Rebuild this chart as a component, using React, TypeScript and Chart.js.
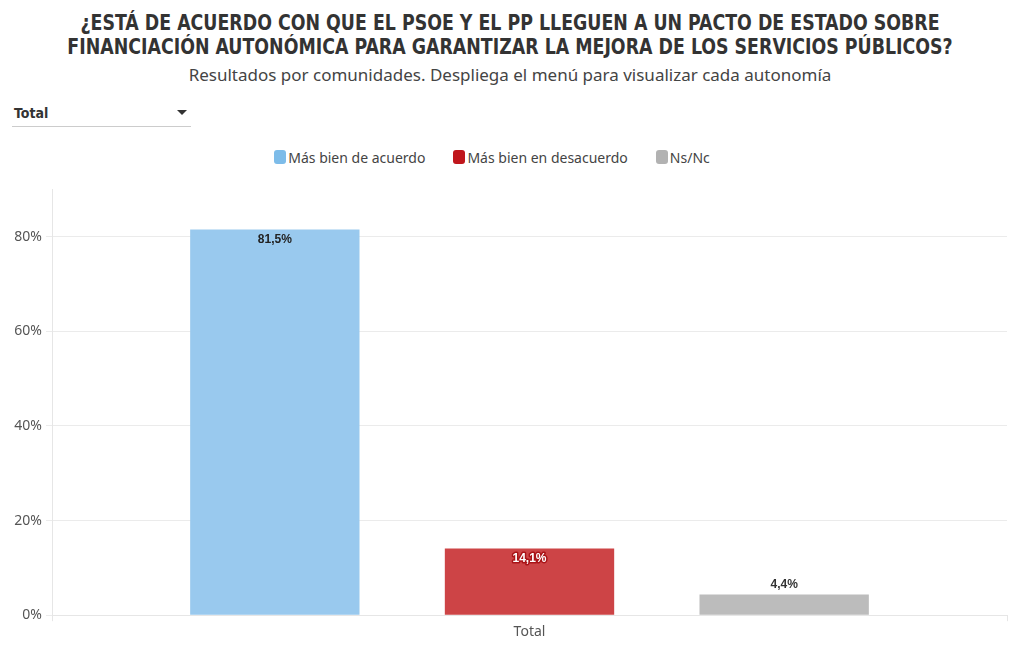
import React, { useEffect, useRef } from "react";
import { Chart, registerables } from "chart.js";

Chart.register(...registerables);

const titleLines = [
  "¿ESTÁ DE ACUERDO CON QUE EL PSOE Y EL PP LLEGUEN A UN PACTO DE ESTADO SOBRE",
  "FINANCIACIÓN AUTONÓMICA PARA GARANTIZAR LA MEJORA DE LOS SERVICIOS PÚBLICOS?",
];
const subtitle = "Resultados por comunidades. Despliega el menú para visualizar cada autonomía";
const categories = ["Total"];
const seriesNames = ["Más bien de acuerdo", "Más bien en desacuerdo", "Ns/Nc"];
const acuerdo = [81.5];
const desacuerdo = [14.1];
const nsnc = [4.4];
const yTicks = [0, 20, 40, 60, 80];

const barColors = ["rgb(153,201,238)", "rgb(205,68,70)", "rgb(188,188,188)"];
const legendColors = ["#7dbce9", "#c0161c", "#b2b2b2"];

const fmt = (v: number) => v.toFixed(1).replace(".", ",") + "%";

const labelPlugin = {
  id: "barLabels",
  afterDatasetsDraw(chart: any) {
    const ctx = chart.ctx;
    ctx.save();
    ctx.font = "bold 12px 'Liberation Sans', Arial, sans-serif";
    ctx.textAlign = "center";
    chart.data.datasets.forEach((ds: any, di: number) => {
      const meta = chart.getDatasetMeta(di);
      meta.data.forEach((bar: any, i: number) => {
        const v = ds.data[i];
        const txt = fmt(v);
        const h = bar.base - bar.y;
        if (h > 30) {
          ctx.textBaseline = "middle";
          const ty = bar.y + 10;
          if (di === 1) {
            ctx.lineWidth = 3;
            ctx.lineJoin = "round";
            ctx.strokeStyle = "rgb(170,20,24)";
            ctx.strokeText(txt, bar.x, ty);
            ctx.fillStyle = "#ffffff";
            ctx.fillText(txt, bar.x, ty);
          } else {
            ctx.fillStyle = "#222";
            ctx.fillText(txt, bar.x, ty);
          }
        } else {
          ctx.textBaseline = "middle";
          ctx.fillStyle = "#333";
          ctx.fillText(txt, bar.x, bar.y - 10);
        }
      });
    });
    ctx.restore();
  },
};

export default function App() {
  const ref = useRef<HTMLCanvasElement | null>(null);
  useEffect(() => {
    document.body.style.margin = "0";
    if (!ref.current) return;
    const values = [acuerdo, desacuerdo, nsnc];
    const chart = new Chart(ref.current, {
      type: "bar",
      data: {
        labels: categories,
        datasets: seriesNames.map((n, i) => ({
          label: n,
          data: values[i],
          backgroundColor: barColors[i],
          borderWidth: 0,
          categoryPercentage: 0.8,
          barPercentage: 0.665,
        })),
      },
      options: {
        animation: false,
        responsive: false,
        layout: { padding: { left: 0, right: 13, top: 5, bottom: 0 } },
        plugins: {
          legend: { display: false },
          tooltip: { enabled: false },
        },
        scales: {
          x: {
            grid: { drawOnChartArea: false, drawTicks: true, tickLength: 6, color: "#e6e6e6" },
            border: { display: true, color: "#e6e6e6" },
            ticks: {
              color: "#555",
              padding: 2,
              font: { family: "'Noto Sans', 'Open Sans', sans-serif", size: 14 },
            },
          },
          y: {
            min: 0,
            max: 90,
            afterBuildTicks: (scale: any) => {
              scale.ticks = yTicks.map((v) => ({ value: v }));
            },
            afterFit: (scale: any) => {
              scale.width = 52;
            },
            grid: { color: "#ebebeb", tickLength: 6 },
            border: { display: true, color: "#e6e6e6" },
            ticks: {
              color: "#555",
              padding: 4,
              callback: (v: any) => v + "%",
              font: { family: "'Noto Sans', 'Open Sans', sans-serif", size: 14 },
            },
          },
        },
      },
      plugins: [labelPlugin],
    });
    return () => chart.destroy();
  }, []);

  return (
    <div style={{ position: "relative", width: 1020, height: 650, background: "#fff", fontFamily: "'Noto Sans', sans-serif" }}>
      <div
        style={{
          position: "absolute",
          top: 11,
          left: 0,
          width: 1020,
          textAlign: "center",
          fontFamily: "'Liberation Sans Narrow', 'DejaVu Sans Condensed', 'Roboto', sans-serif",
          fontWeight: "bold",
          fontSize: 21,
          lineHeight: "24px",
          color: "#333",
          transform: "scaleX(0.92)",
          transformOrigin: "510px 0",
        }}
      >
        {titleLines.map((l, i) => (
          <div key={i} style={{ whiteSpace: "nowrap" }}>{l}</div>
        ))}
      </div>
      <div
        style={{
          position: "absolute",
          top: 64,
          left: 0,
          width: 1020,
          textAlign: "center",
          fontSize: 17,
          lineHeight: "22px",
          color: "#444",
          fontFamily: "'Noto Sans', 'Open Sans', sans-serif",
        }}
      >
        {subtitle}
      </div>
      <div
        style={{
          position: "absolute",
          top: 103,
          left: 12,
          width: 179,
          height: 23,
          borderBottom: "1px solid #ccc",
          fontFamily: "'Liberation Sans Narrow', 'DejaVu Sans Condensed', sans-serif",
          fontWeight: "bold",
          fontSize: 14,
          color: "#333",
        }}
      >
        <span style={{ position: "absolute", left: 2, top: 2 }}>Total</span>
        <span style={{ position: "absolute", right: 4, top: 7, width: 0, height: 0, borderLeft: "5px solid transparent", borderRight: "5px solid transparent", borderTop: "5px solid #333" }} />
      </div>
      <div
        style={{
          position: "absolute",
          top: 147,
          left: 0,
          width: 984,
          height: 20,
          display: "flex",
          justifyContent: "center",
          alignItems: "center",
          gap: 28,
          fontSize: 14,
          color: "#444",
          fontFamily: "'Noto Sans', 'Open Sans', sans-serif",
        }}
      >
        {seriesNames.map((n, i) => (
          <div key={i} style={{ display: "flex", alignItems: "center" }}>
            <span style={{ display: "inline-block", width: 12, height: 14, borderRadius: 3, background: legendColors[i], marginRight: 2 }} />
            <span>{n}</span>
          </div>
        ))}
      </div>
      <canvas ref={ref} width={1020} height={465} style={{ position: "absolute", top: 177, left: 0, width: 1020, height: 465 }} />
    </div>
  );
}
